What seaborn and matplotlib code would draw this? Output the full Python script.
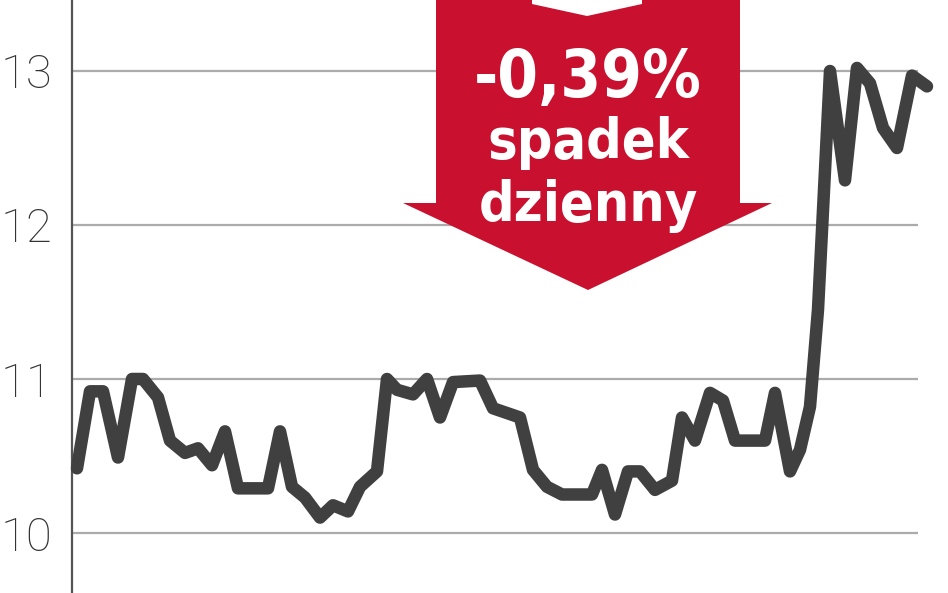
import numpy as np
import pandas as pd
import matplotlib
matplotlib.use('Agg')
import matplotlib.pyplot as plt
from matplotlib.patches import Polygon
import seaborn as sns

# session positions and closing prices
session = [5, 18, 31, 46, 60, 71, 86, 98, 113, 126, 140, 153, 166, 196, 208,
           220, 233, 248, 261, 276, 288, 305, 315, 325, 341, 355, 368, 381,
           408, 421, 448, 461, 475, 490, 520, 530, 543, 556, 568, 583, 600,
           610, 623, 638, 651, 663, 693, 703, 718, 728, 738, 746, 758, 773,
           785, 798, 811, 825, 840, 855]
price = [10.42, 10.92, 10.92, 10.49, 11.0, 11.0, 10.88, 10.6, 10.52, 10.55,
         10.44, 10.66, 10.29, 10.29, 10.66, 10.3, 10.23, 10.1, 10.18, 10.14,
         10.3, 10.4, 11.0, 10.93, 10.9, 11.0, 10.75, 10.98, 10.99, 10.81,
         10.75, 10.41, 10.3, 10.25, 10.25, 10.41, 10.12, 10.4, 10.4, 10.28,
         10.34, 10.75, 10.6, 10.91, 10.86, 10.6, 10.6, 10.91, 10.4, 10.54,
         10.82, 11.45, 13.0, 12.29, 13.02, 12.92, 12.63, 12.5, 12.97, 12.9]
yticks = [10, 11, 12, 13]
change_label = ['-0,39%', 'spadek', 'dzienny']

df = pd.DataFrame({'session': session, 'price': price})

sns.set_style('white')
W, H = 948, 593
fig = plt.figure(figsize=(W / 100, H / 100), dpi=100)
ax = fig.add_axes([72 / W, 0, (918 - 72) / W, 1])

ax.set_ylim(10 - 60 / 154, 13 + 71 / 154)
ax.set_xlim(0, 846)

for y in yticks:
    ax.axhline(y, color='#ababab', lw=1.6, zorder=1)

sns.lineplot(data=df, x='session', y='price', ax=ax, color='#404040',
             lw=9, zorder=3, clip_on=False,
             solid_joinstyle='round', solid_capstyle='round')

ax.set_yticks(yticks)
ax.set_yticklabels([str(v) for v in yticks])
ax.set_xticks([])
ax.set_xlabel('')
ax.set_ylabel('')
ax.tick_params(axis='y', length=0, pad=14, labelsize=34, labelcolor='#333333')
for lab in ax.get_yticklabels():
    lab.set_fontfamily('Roboto')
    lab.set_fontweight('light')

for s in ['top', 'right', 'bottom']:
    ax.spines[s].set_visible(False)
ax.spines['left'].set_color('#555555')
ax.spines['left'].set_linewidth(1.6)

# red arrow badge
pts = [(436, -5), (532, -5), (532, 4), (587, 16), (642, 4), (642, -5),
       (740, -5), (740, 203), (772, 203), (588, 290), (403, 203), (436, 203)]
arrow = Polygon([(x / W, 1 - y / H) for x, y in pts], closed=True,
                transform=fig.transFigure, facecolor='#c9112f',
                edgecolor='none', zorder=5)
fig.patches.append(arrow)

baselines = [97, 158, 221]
sizes = [47, 40, 40]
for txt, b, fs in zip(change_label, baselines, sizes):
    fig.text(588 / W, 1 - b / H, txt, ha='center', va='baseline',
             color='white', fontsize=fs, fontweight='bold',
             family='DejaVu Sans', fontstretch='condensed', zorder=6)

fig.savefig('out.png', dpi=100)
